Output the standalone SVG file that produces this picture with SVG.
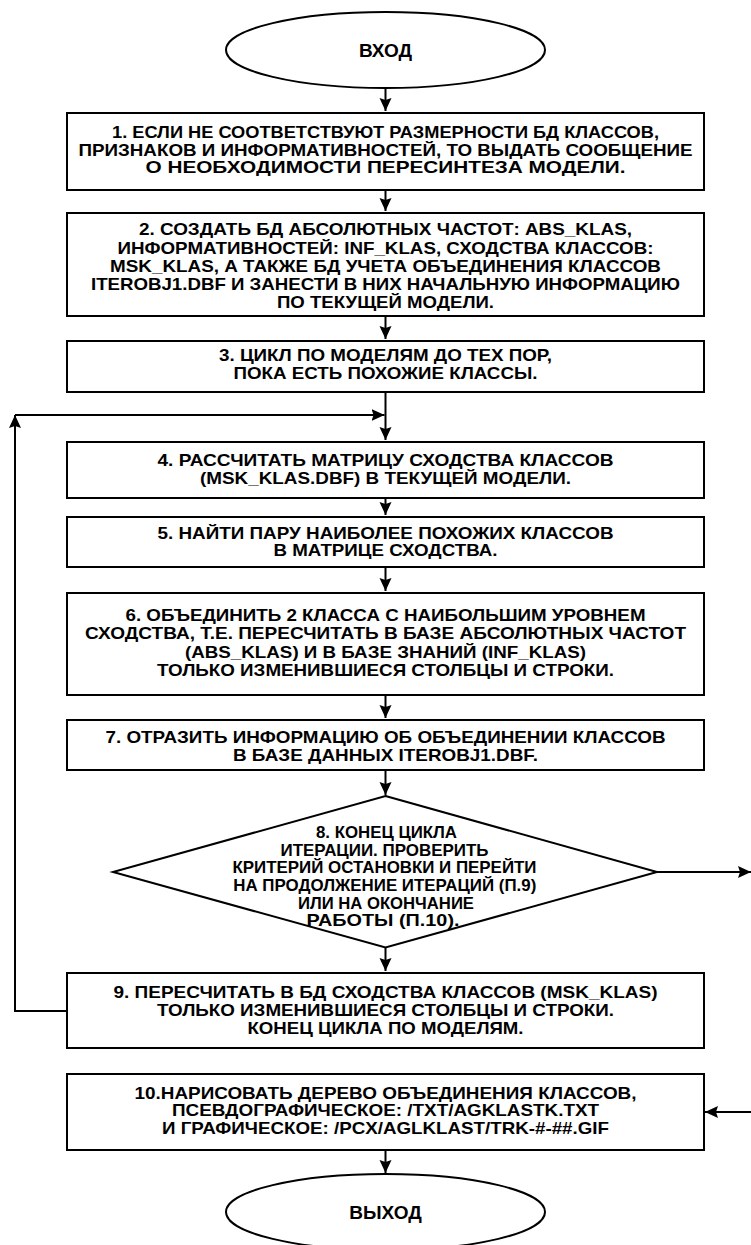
<svg xmlns="http://www.w3.org/2000/svg" width="751" height="1245" viewBox="0 0 751 1245">
<style>
.s{fill:#fff;stroke:#000;stroke-width:2}
.t{font-family:"Liberation Sans",Arial,sans-serif;font-weight:bold;font-size:17px;fill:#000;text-anchor:middle}
.b{font-size:19px}
.c{fill:none;stroke:#000;stroke-width:2}
</style>
<defs>
<marker id="a" markerUnits="userSpaceOnUse" markerWidth="14" markerHeight="13" refX="13" refY="6.5" orient="auto">
<path d="M0,0.5 L13,6.5 L0,12.5 L2,6.5 z" fill="#000"/>
</marker>
</defs>
<rect width="751" height="1245" fill="#fff"/>
<g id="connectors">
<path class="c" d="M385.5,88 V111" marker-end="url(#a)"/>
<path class="c" d="M385.5,190 V211" marker-end="url(#a)"/>
<path class="c" d="M385.5,316 V339" marker-end="url(#a)"/>
<path class="c" d="M385.5,392 V440" marker-end="url(#a)"/>
<path class="c" d="M67,1011 H15 V415" marker-end="url(#a)"/>
<path class="c" d="M15,415 H384.5" marker-end="url(#a)"/>
<path class="c" d="M385.5,498 V515" marker-end="url(#a)"/>
<path class="c" d="M385.5,567 V591" marker-end="url(#a)"/>
<path class="c" d="M385.5,695 V718" marker-end="url(#a)"/>
<path class="c" d="M385.5,770 V795" marker-end="url(#a)"/>
<path class="c" d="M657,872 H751" marker-end="url(#a)"/>
<path class="c" d="M385.5,947.5 V971" marker-end="url(#a)"/>
<path class="c" d="M751,1112 H705" marker-end="url(#a)"/>
<path class="c" d="M385.5,1150 V1173" marker-end="url(#a)"/>
</g>
<g id="start">
<ellipse class="s" cx="385.5" cy="50" rx="159.5" ry="38"/>
<text class="t b" x="385.5" y="57">ВХОД</text>
</g>
<g id="n1">
<rect class="s" x="67" y="113" width="637" height="77"/>
<text class="t" x="385.5" y="138.3" textLength="547" lengthAdjust="spacingAndGlyphs">1. ЕСЛИ НЕ СООТВЕТСТВУЮТ РАЗМЕРНОСТИ БД КЛАССОВ,</text>
<text class="t" x="385.5" y="155.8" textLength="614" lengthAdjust="spacingAndGlyphs">ПРИЗНАКОВ И ИНФОРМАТИВНОСТЕЙ, ТО ВЫДАТЬ СООБЩЕНИЕ</text>
<text class="t" x="385.5" y="173.3" textLength="480" lengthAdjust="spacingAndGlyphs">О НЕОБХОДИМОСТИ ПЕРЕСИНТЕЗА МОДЕЛИ.</text>
</g>
<g id="n2">
<rect class="s" x="67" y="213" width="637" height="103"/>
<text class="t" x="385.5" y="235.3" textLength="493" lengthAdjust="spacingAndGlyphs">2. СОЗДАТЬ БД АБСОЛЮТНЫХ ЧАСТОТ: ABS_KLAS,</text>
<text class="t" x="385.5" y="253.8" textLength="536" lengthAdjust="spacingAndGlyphs">ИНФОРМАТИВНОСТЕЙ: INF_KLAS, СХОДСТВА КЛАССОВ:</text>
<text class="t" x="385.5" y="272" textLength="551" lengthAdjust="spacingAndGlyphs">MSK_KLAS, А ТАКЖЕ БД УЧЕТА ОБЪЕДИНЕНИЯ КЛАССОВ</text>
<text class="t" x="385.5" y="290.3" textLength="589" lengthAdjust="spacingAndGlyphs">ITEROBJ1.DBF И ЗАНЕСТИ В НИХ НАЧАЛЬНУЮ ИНФОРМАЦИЮ</text>
<text class="t" x="385.5" y="308.3" textLength="217" lengthAdjust="spacingAndGlyphs">ПО ТЕКУЩЕЙ МОДЕЛИ.</text>
</g>
<g id="n3">
<rect class="s" x="67" y="341" width="637" height="51"/>
<text class="t" x="385.5" y="361.3" textLength="333" lengthAdjust="spacingAndGlyphs">3. ЦИКЛ ПО МОДЕЛЯМ ДО ТЕХ ПОР,</text>
<text class="t" x="385.5" y="379.3" textLength="304" lengthAdjust="spacingAndGlyphs">ПОКА ЕСТЬ ПОХОЖИЕ КЛАССЫ.</text>
</g>
<g id="n4">
<rect class="s" x="67" y="442" width="637" height="56"/>
<text class="t" x="385.5" y="466.3" textLength="456" lengthAdjust="spacingAndGlyphs">4. РАССЧИТАТЬ МАТРИЦУ СХОДСТВА КЛАССОВ</text>
<text class="t" x="385.5" y="484.3" textLength="371" lengthAdjust="spacingAndGlyphs">(MSK_KLAS.DBF) В ТЕКУЩЕЙ МОДЕЛИ.</text>
</g>
<g id="n5">
<rect class="s" x="67" y="517" width="637" height="50"/>
<text class="t" x="385.5" y="538.8" textLength="456" lengthAdjust="spacingAndGlyphs">5. НАЙТИ ПАРУ НАИБОЛЕЕ ПОХОЖИХ КЛАССОВ</text>
<text class="t" x="385.5" y="556.3" textLength="224" lengthAdjust="spacingAndGlyphs">В МАТРИЦЕ СХОДСТВА.</text>
</g>
<g id="n6">
<rect class="s" x="67" y="593" width="637" height="102"/>
<text class="t" x="385.5" y="621.3" textLength="520" lengthAdjust="spacingAndGlyphs">6. ОБЪЕДИНИТЬ 2 КЛАССА С НАИБОЛЬШИМ УРОВНЕМ</text>
<text class="t" x="385.5" y="639.3" textLength="601" lengthAdjust="spacingAndGlyphs">СХОДСТВА, Т.Е. ПЕРЕСЧИТАТЬ В БАЗЕ АБСОЛЮТНЫХ ЧАСТОТ</text>
<text class="t" x="385.5" y="657.8" textLength="401" lengthAdjust="spacingAndGlyphs">(ABS_KLAS) И В БАЗЕ ЗНАНИЙ (INF_KLAS)</text>
<text class="t" x="385.5" y="676.3" textLength="457" lengthAdjust="spacingAndGlyphs">ТОЛЬКО ИЗМЕНИВШИЕСЯ СТОЛБЦЫ И СТРОКИ.</text>
</g>
<g id="n7">
<rect class="s" x="67" y="720" width="637" height="50"/>
<text class="t" x="385.5" y="742.8" textLength="560" lengthAdjust="spacingAndGlyphs">7. ОТРАЗИТЬ ИНФОРМАЦИЮ ОБ ОБЪЕДИНЕНИИ КЛАССОВ</text>
<text class="t" x="385.5" y="761.3" textLength="305" lengthAdjust="spacingAndGlyphs">В БАЗЕ ДАННЫХ ITEROBJ1.DBF.</text>
</g>
<g id="n8">
<polygon class="s" points="385.5,796 657,872 385.5,947.5 113,872"/>
<text class="t" x="386.5" y="837.8" textLength="141" lengthAdjust="spacingAndGlyphs">8. КОНЕЦ ЦИКЛА</text>
<text class="t" x="384.5" y="855.5" textLength="208" lengthAdjust="spacingAndGlyphs">ИТЕРАЦИИ. ПРОВЕРИТЬ</text>
<text class="t" x="384.5" y="873.2" textLength="304" lengthAdjust="spacingAndGlyphs">КРИТЕРИЙ ОСТАНОВКИ И ПЕРЕЙТИ</text>
<text class="t" x="384.8" y="890.9" textLength="303" lengthAdjust="spacingAndGlyphs">НА ПРОДОЛЖЕНИЕ ИТЕРАЦИЙ (П.9)</text>
<text class="t" x="386" y="908.6" textLength="176" lengthAdjust="spacingAndGlyphs">ИЛИ НА ОКОНЧАНИЕ</text>
<text class="t" x="383" y="926.3" textLength="153" lengthAdjust="spacingAndGlyphs">РАБОТЫ (П.10).</text>
</g>
<g id="n9">
<rect class="s" x="67" y="973" width="637" height="75"/>
<text class="t" x="385.5" y="997.8" textLength="544" lengthAdjust="spacingAndGlyphs">9. ПЕРЕСЧИТАТЬ В БД СХОДСТВА КЛАССОВ (MSK_KLAS)</text>
<text class="t" x="385.5" y="1016.3" textLength="457" lengthAdjust="spacingAndGlyphs">ТОЛЬКО ИЗМЕНИВШИЕСЯ СТОЛБЦЫ И СТРОКИ.</text>
<text class="t" x="385.5" y="1034.3" textLength="276" lengthAdjust="spacingAndGlyphs">КОНЕЦ ЦИКЛА ПО МОДЕЛЯМ.</text>
</g>
<g id="n10">
<rect class="s" x="67" y="1074" width="637" height="76"/>
<text class="t" x="385.5" y="1099.3" textLength="502" lengthAdjust="spacingAndGlyphs">10.НАРИСОВАТЬ ДЕРЕВО ОБЪЕДИНЕНИЯ КЛАССОВ,</text>
<text class="t" x="385.5" y="1116.3" textLength="427" lengthAdjust="spacingAndGlyphs">ПСЕВДОГРАФИЧЕСКОЕ: /TXT/AGKLASTK.TXT</text>
<text class="t" x="385.5" y="1134.3" textLength="447" lengthAdjust="spacingAndGlyphs">И ГРАФИЧЕСКОЕ: /PCX/AGLKLAST/TRK-#-##.GIF</text>
</g>
<g id="end">
<ellipse class="s" cx="385.5" cy="1212" rx="159.5" ry="38"/>
<text class="t b" x="385.5" y="1219">ВЫХОД</text>
</g>
</svg>
